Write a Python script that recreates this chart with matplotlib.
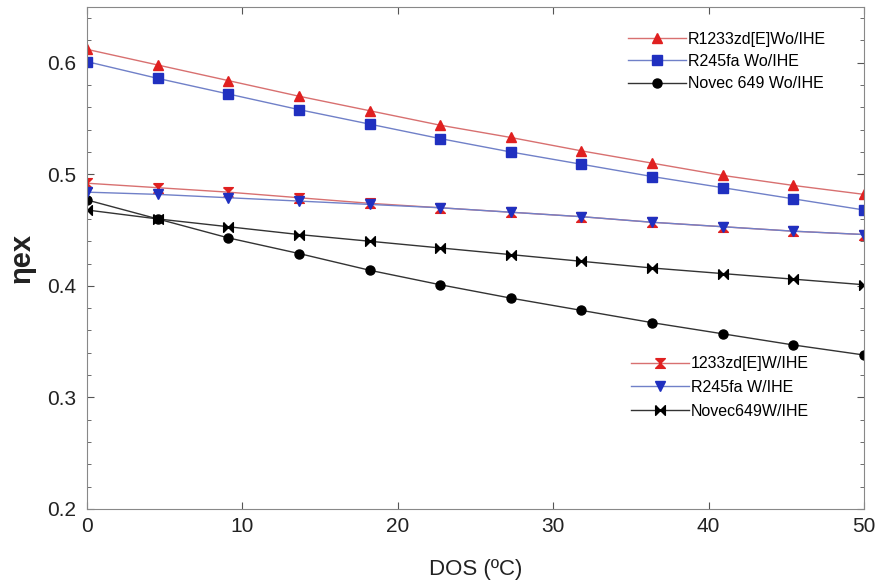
## exergy efficiency vs DOS plot
import numpy as np
import matplotlib.pyplot as plt

plt.rcParams['font.family'] = ['Liberation Sans', 'DejaVu Sans']

## data
dos = np.linspace(0, 50, 12)
r1233_wo = [0.612, 0.598, 0.584, 0.570, 0.557, 0.544, 0.533, 0.521, 0.510, 0.499, 0.490, 0.482]
r245_wo = [0.601, 0.586, 0.572, 0.558, 0.545, 0.532, 0.520, 0.509, 0.498, 0.488, 0.478, 0.468]
novec_wo = [0.477, 0.460, 0.443, 0.429, 0.414, 0.401, 0.389, 0.378, 0.367, 0.357, 0.347, 0.338]
r1233_w = [0.492, 0.488, 0.484, 0.479, 0.474, 0.470, 0.466, 0.462, 0.457, 0.453, 0.449, 0.446]
r245_w = [0.484, 0.482, 0.479, 0.476, 0.473, 0.470, 0.466, 0.462, 0.457, 0.453, 0.449, 0.446]
novec_w = [0.468, 0.460, 0.453, 0.446, 0.440, 0.434, 0.428, 0.422, 0.416, 0.411, 0.406, 0.401]

## custom bowtie markers
hourglass = [(-1, 1), (1, 1), (-1, -1), (1, -1), (-1, 1)]
bowtie = [(-1, 1), (-1, -1), (1, 1), (1, -1), (-1, 1)]

red_line = '#d87070'
red_mk = '#e02020'
blue_line = '#7080c8'
blue_mk = '#2030c0'

fig = plt.figure(figsize=(8.79, 5.81), dpi=100)
ax = fig.add_axes([0.099, 0.124, 0.884, 0.864])

l1, = ax.plot(dos, r1233_wo, color=red_line, lw=1, marker='^', ms=6.5, mfc=red_mk, mec=red_mk)
l2, = ax.plot(dos, r245_wo, color=blue_line, lw=1, marker='s', ms=6.5, mfc=blue_mk, mec=blue_mk)
l3, = ax.plot(dos, novec_wo, color='#333333', lw=1, marker='o', ms=6.5, mfc='black', mec='black')
l4, = ax.plot(dos, r1233_w, color=red_line, lw=1, marker=hourglass, ms=7, mfc=red_mk, mec=red_mk)
l5, = ax.plot(dos, r245_w, color=blue_line, lw=1, marker='v', ms=6.5, mfc=blue_mk, mec=blue_mk)
l6, = ax.plot(dos, novec_w, color='#333333', lw=1, marker=bowtie, ms=7, mfc='black', mec='black')

ax.set_xlim(0, 50)
ax.set_ylim(0.2, 0.65)
ax.set_xticks([0, 10, 20, 30, 40, 50])
ax.set_yticks([0.2, 0.3, 0.4, 0.5, 0.6])
ax.set_yticks(np.arange(0.2, 0.651, 0.02), minor=True)
ax.tick_params(direction='in', which='both', top=True, right=True, colors='#555555', labelcolor='#222222')
ax.tick_params(axis='both', which='major', length=5)
ax.tick_params(axis='y', which='major', labelsize=15, pad=8)
ax.tick_params(axis='x', which='major', labelsize=15, pad=6)
ax.tick_params(which='minor', length=3)
for sp in ax.spines.values():
    sp.set_color('#888888')

ax.set_xlabel('DOS (ºC)', fontsize=16, color='#222222', labelpad=16)
ax.set_ylabel('ηex', fontsize=21, fontweight='bold', color='#222222', labelpad=8)

leg1 = ax.legend([l1, l2, l3], ['R1233zd[E]Wo/IHE', 'R245fa Wo/IHE', 'Novec 649 Wo/IHE'],
                 loc='upper left', bbox_to_anchor=(0.678, 0.979), frameon=False, fontsize=11.5,
                 handlelength=3.6, handletextpad=0.15, labelspacing=0.45)
ax.add_artist(leg1)
ax.legend([l4, l5, l6], ['1233zd[E]W/IHE', 'R245fa W/IHE', 'Novec649W/IHE'],
          loc='upper left', bbox_to_anchor=(0.682, 0.333), frameon=False, fontsize=11.5,
          handlelength=3.6, handletextpad=0.15, labelspacing=0.55)

fig.savefig('out.png', dpi=100)
